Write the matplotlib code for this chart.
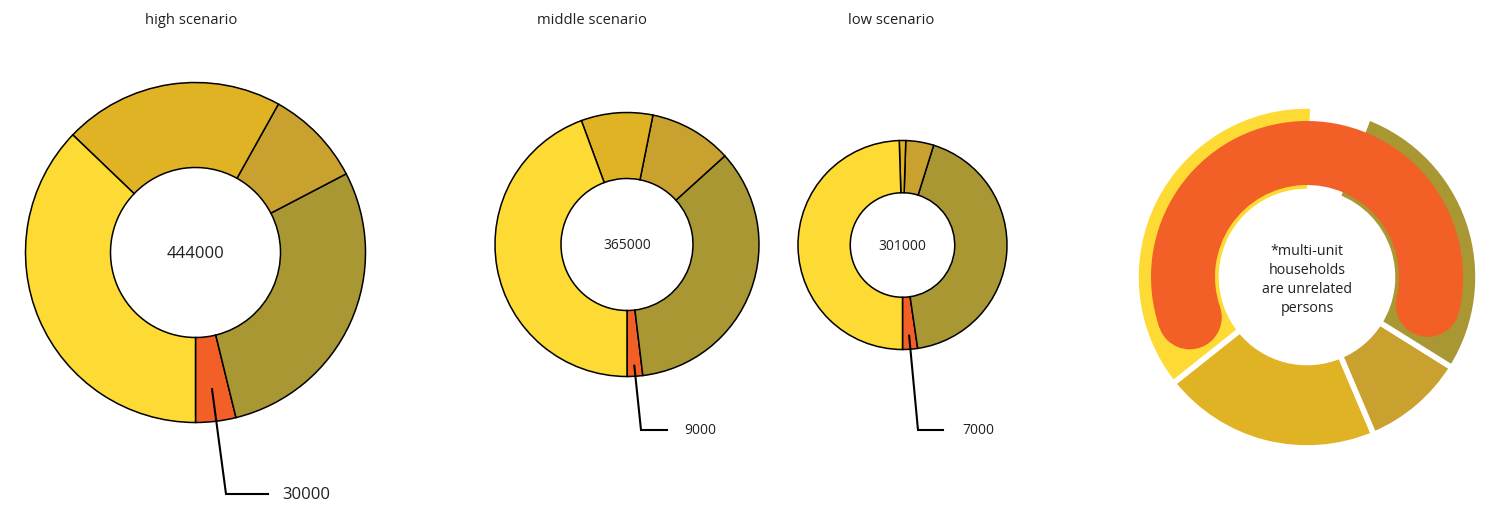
"""Household scenarios as donut charts, with a key ring on the right."""

import matplotlib
matplotlib.use('Agg')
import matplotlib.pyplot as plt
from matplotlib.patches import Wedge, Circle
import numpy as np

plt.rcParams['font.family'] = ['Open Sans', 'DejaVu Sans']

# segments, counterclockwise from the bottom: multi-unit, olive, ochre, gold, yellow
# values in thousands
scenarios = ['high scenario', 'middle scenario', 'low scenario']
totals = ['444000', '365000', '301000']
callouts = ['30000', '9000', '7000']
high = [17, 128, 41, 93, 165]
middle = [7, 127, 37, 32, 162]
low = [7, 129, 13, 3, 149]

colors = ['#F26027', '#A99734', '#C9A12F', '#E0B325', '#FDDB34']

# key ring: yellow, gold, ochre, olive, empty (degrees)
key_values = [130.5, 74.5, 35, 101, 19]
key_colors = ['#FDDB34', '#E0B325', '#C9A12F', '#A99734', 'none']
key_arc = (-13, 199)
key_text = '*multi-unit\nhouseholds\nare unrelated\npersons'

W, H = 1503, 506
TEXT = '#231F20'

fig = plt.figure(figsize=(W / 100, H / 100), dpi=100)
ax = fig.add_axes([0, 0, 1, 1])
ax.set_xlim(0, W)
ax.set_ylim(0, H)
ax.set_aspect('equal')
ax.axis('off')

# layout in pixels (y measured from top)
layout = [
    dict(c=(195.5, 253.5), r=170, title_x=191.5, fs=12, start=0.81,
         bend=(226, 495), end=268, lab_x=282),
    dict(c=(627, 245.5), r=132, title_x=591.5, fs=10, start=0.92,
         bend=(641, 431), end=667, lab_x=684),
    dict(c=(902.5, 246), r=104.5, title_x=891.5, fs=10, start=0.87,
         bend=(918, 431), end=943, lab_x=962),
]

for vals, name, total, call, lay in zip([high, middle, low], scenarios,
                                        totals, callouts, layout):
    cx, cy = lay['c'][0], H - lay['c'][1]
    r = lay['r']
    wedges, _ = ax.pie(vals, colors=colors, startangle=270, counterclock=True,
                       center=(cx, cy), radius=r, frame=True,
                       wedgeprops=dict(width=r * 0.5, edgecolor='black',
                                       linewidth=1.1))
    ax.text(cx, cy, total, ha='center', va='center', fontsize=lay['fs'],
            color=TEXT)
    ax.text(lay['title_x'], H - 20, name, ha='center', va='center',
            fontsize=10.6, color=TEXT)

    # leader line from the middle of the small orange slice
    w = wedges[0]
    mid = np.deg2rad((w.theta1 + w.theta2) / 2)
    sx = cx + lay['start'] * r * np.cos(mid)
    sy = cy + lay['start'] * r * np.sin(mid)
    bx, by = lay['bend'][0], H - lay['bend'][1]
    ax.plot([sx, bx, lay['end']], [sy, by, by], color='black', lw=1.5,
            solid_joinstyle='miter')
    ax.text(lay['lab_x'], by, call, ha='left', va='center',
            fontsize=lay['fs'], color=TEXT)

# key ring on the right
kcx, kcy, kr = 1307, H - 278, 171
ax.pie(key_values, colors=key_colors, startangle=88, counterclock=True,
       center=(kcx, kcy), radius=kr, frame=True,
       wedgeprops=dict(width=85.5, edgecolor='white', linewidth=4))

arc_out, arc_w = 156, 64
ax.add_patch(Wedge((kcx, kcy), arc_out, key_arc[0], key_arc[1], width=arc_w,
                   facecolor=colors[0], edgecolor='none'))
mid_r = arc_out - arc_w / 2
for ang in key_arc:
    a = np.deg2rad(ang)
    ax.add_patch(Circle((kcx + mid_r * np.cos(a), kcy + mid_r * np.sin(a)),
                        arc_w / 2, facecolor=colors[0], edgecolor='none'))

ax.text(kcx, kcy - 2, key_text, ha='center', va='center', fontsize=10.3,
        color=TEXT, linespacing=1.38)

ax.set_xlim(0, W)
ax.set_ylim(0, H)
ax.axis('off')

plt.savefig('out.png', dpi=100)
plt.close()
